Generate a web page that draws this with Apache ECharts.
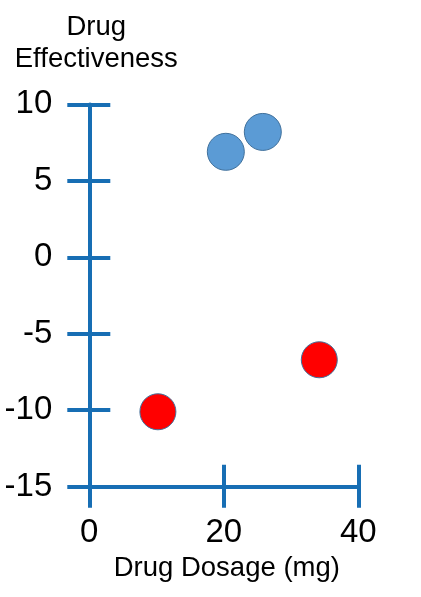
<!DOCTYPE html>
<html>
<head>
<meta charset="utf-8">
<script src="https://cdn.jsdelivr.net/npm/echarts@6/dist/echarts.min.js"></script>
<style>html,body{margin:0;padding:0;background:#fff}#c{width:421px;height:597px}</style>
</head>
<body>
<div id="c"></div>
<script>
// Data
const blueX = [20.3, 25.8];
const blueY = [6.9, 8.2];
const redX = [10.2, 34.2];
const redY = [-10.1, -6.7];
const xTicks = { min: 0, max: 40, interval: 20 };
const yTicks = { min: -15, max: 10, interval: 5 };
const xName = 'Drug Dosage (mg)';
const yName = 'Drug\nEffectiveness';

const axisColor = '#176eb4';
const font = 'Liberation Sans';
const gridPos = { left: 89.3, right: 62.7, top: 104.4, bottom: 110.3, containLabel: false, outerBoundsMode: 'none' };

const chart = echarts.init(document.getElementById('c'), null, { renderer: 'canvas' });
chart.setOption({
  animation: false,
  backgroundColor: '#fff',
  grid: [Object.assign({}, gridPos), Object.assign({}, gridPos)],
  xAxis: [
    {
      gridIndex: 0, type: 'value', min: xTicks.min, max: xTicks.max, interval: xTicks.interval,
      name: xName, nameLocation: 'middle', nameGap: 68,
      nameTextStyle: { fontFamily: font, fontSize: 27.5, color: '#000', padding: [0, 0, 0, 6] },
      axisLine: { show: true, onZero: false, lineStyle: { color: axisColor, width: 4 } },
      axisTick: { show: true, inside: false, length: 21, lineStyle: { color: axisColor, width: 4 } },
      axisLabel: { show: true, margin: 30, fontFamily: font, fontSize: 33, color: '#000' },
      splitLine: { show: false }
    },
    {
      gridIndex: 1, type: 'value', min: xTicks.min, max: xTicks.max, interval: xTicks.interval,
      axisLine: { show: false, onZero: false },
      axisTick: { show: true, inside: true, length: 22, lineStyle: { color: axisColor, width: 4 } },
      axisLabel: { show: false },
      splitLine: { show: false }
    }
  ],
  yAxis: [
    {
      gridIndex: 0, type: 'value', min: yTicks.min, max: yTicks.max, interval: yTicks.interval,
      name: yName, nameLocation: 'end', nameGap: 29,
      nameTextStyle: { fontFamily: font, fontSize: 27.5, lineHeight: 32, color: '#000', align: 'center', padding: [0, 0, 0, 14] },
      axisLine: { show: true, onZero: false, lineStyle: { color: axisColor, width: 4 } },
      axisTick: { show: true, inside: false, length: 22, lineStyle: { color: axisColor, width: 4 } },
      axisLabel: { show: true, margin: 37, fontFamily: font, fontSize: 33, color: '#000' },
      splitLine: { show: false }
    },
    {
      gridIndex: 1, type: 'value', min: yTicks.min, max: yTicks.max, interval: yTicks.interval,
      axisLine: { show: false, onZero: false },
      axisTick: { show: true, inside: true, length: 21, lineStyle: { color: axisColor, width: 4 } },
      axisLabel: { show: false },
      splitLine: { show: false }
    }
  ],
  series: [
    {
      type: 'scatter', xAxisIndex: 0, yAxisIndex: 0, symbolSize: 37,
      data: blueX.map((x, i) => [x, blueY[i]]),
      itemStyle: { color: '#5b9bd5', borderColor: '#41719c', borderWidth: 1, opacity: 1 },
      z: 5
    },
    {
      type: 'scatter', xAxisIndex: 0, yAxisIndex: 0, symbolSize: 36,
      data: redX.map((x, i) => [x, redY[i]]),
      itemStyle: { color: '#ff0000', borderColor: '#41719c', borderWidth: 1, opacity: 1 },
      z: 5
    }
  ]
});
</script>
</body>
</html>
